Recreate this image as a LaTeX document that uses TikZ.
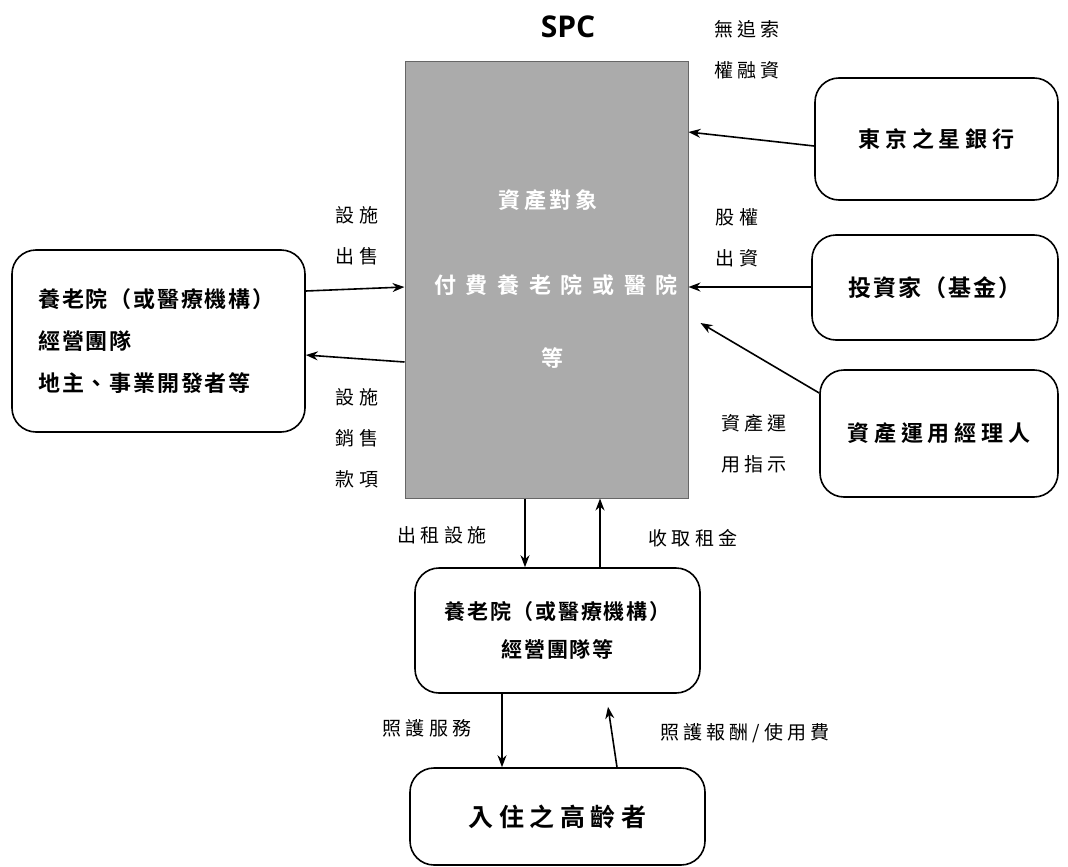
\documentclass[tikz,border=0pt]{standalone}
\usepackage{fontspec}
\setmainfont{Noto Sans CJK TC}
\newfontfamily\latinsans{Open Sans}
\newfontfamily\boxA{Noto Sans CJK TC Bold}[LetterSpace=8]
\newfontfamily\boxB{Noto Sans CJK TC Bold}[LetterSpace=22]
\newfontfamily\spcA{Noto Sans CJK TC Bold}[LetterSpace=18]
\newfontfamily\spcB{Noto Sans CJK TC Bold}[LetterSpace=44]
\newfontfamily\lblfont{Noto Sans CJK TC}[LetterSpace=22]
\usetikzlibrary{arrows.meta}
\begin{document}
\begin{tikzpicture}[x=1pt,y=-1pt,
  box/.style={draw=black,line width=1.6pt,rounded corners=24pt,fill=white,font=\boxA\fontsize{22}{42}\selectfont},
  boxwide/.style={box,font=\boxB\fontsize{22}{42}\selectfont},
  lbl/.style={font=\lblfont\fontsize{19}{41}\selectfont,align=center,inner sep=0pt},
  spctxt/.style={text=white,font=\spcA\fontsize{22}{26}\selectfont,inner sep=0pt},
  arr/.style={line width=1.6pt,-{Stealth[length=12pt,width=9pt]}}]
\useasboundingbox[fill=white] (0,0) rectangle (1068,867);
% SPC
\node[font=\latinsans\bfseries\fontsize{30}{32}\selectfont] (title) at (568,27) {SPC};
\node[draw=black!60,line width=1pt,fill=black!33,minimum width=283pt,minimum height=436pt,inner sep=0pt] (spc) at (546.5,280) {};
\node[spctxt] (s1) at (548,200) {資產對象};
\node[spctxt,font=\spcB\fontsize{22}{26}\selectfont] (s2) at (556,285) {付費養老院或醫院};
\node[spctxt] (s3) at (552,358) {等};
% boxes
\node[box,minimum width=293pt,minimum height=182pt,text width=240pt,align=left,inner sep=0pt] (lb) at (158.5,341) {養老院（或醫療機構）\\經營團隊\\地主、事業開發者等};
\node[boxwide] (bank) [minimum width=243pt,minimum height=122pt] at (936.5,139) {東京之星銀行};
\node[box,font=\boxA\fontsize{23}{42}\selectfont] (inv) [minimum width=246pt,minimum height=105pt] at (935,287.5) {投資家（基金）};
\node[boxwide] (mgr) [minimum width=238pt,minimum height=127pt] at (939,433.5) {資產運用經理人};
\node[box,minimum width=285pt,minimum height=125pt,align=center,font=\boxA\fontsize{21}{38}\selectfont] (mid) at (557.5,630.5) {養老院（或醫療機構）\\經營團隊等};
\node[boxwide,minimum width=295pt,minimum height=97pt,font=\boxB\fontsize{25}{28}\selectfont] (bot) at (557.5,816.5) {入住之高齡者};
% labels
\node[lbl] (l1) at (357,236) {設施\\出售};
\node[lbl] (l2) at (357,438) {設施\\銷售\\款項};
\node[lbl] (l3) at (747,50) {無追索\\權融資};
\node[lbl] (l4) at (737,238) {股權\\出資};
\node[lbl] (l5) at (754,444) {資產運\\用指示};
\node[lbl] (l6) at (442,535) {出租設施};
\node[lbl] (l7) at (693,538) {收取租金};
\node[lbl] (l8) at (427,728) {照護服務};
\node[lbl] (l9) at (745,733) {照護報酬/使用費};
% arrows
\draw[arr] (lb.east |- 0,291) -- (spc.west |- 0,287);
\draw[arr] (spc.west |- 0,362) -- (lb.east |- 0,355);
\draw[arr] (bank.west |- 0,146) -- (spc.east |- 0,132);
\draw[arr] (inv.west |- 0,287) -- (spc.east |- 0,287);
\draw[arr] (mgr.west |- 0,393) -- ([xshift=12pt]spc.east |- 0,323);
\draw[arr] (spc.south -| 525,0) -- (mid.north -| 525,0);
\draw[arr] (mid.north -| 600,0) -- (spc.south -| 600,0);
\draw[arr] (mid.south -| 502,0) -- (bot.north -| 502,0);
\draw[arr] (bot.north -| 617,0) -- ([xshift=-9pt,yshift=-13pt]mid.south -| 617,0);
\end{tikzpicture}
\end{document}
